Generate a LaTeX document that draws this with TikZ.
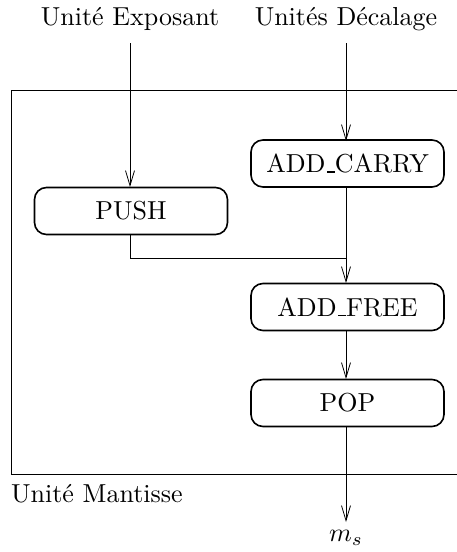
\documentclass[tikz,border=0pt]{standalone}
\usetikzlibrary{arrows.meta}
% labels are set at 10pt and enlarged, keeping the 10pt design
\newcommand{\lbltxt}[1]{\scalebox{2.6}{#1}}
% short baseline rule, as in plain TeX's underscore
\newcommand{\uscore}{\leavevmode\kern.06em\vbox{\hrule width.3em height .5pt}}
\begin{document}
\begin{tikzpicture}[x=1pt,y=-1pt,
  every node/.style={font=\fontsize{10}{12}\selectfont, inner sep=0pt},
  op/.style={draw, line width=1.6pt, rounded corners=12pt, minimum width=193pt, minimum height=47pt},
  link/.style={line width=0.8pt},
  flow/.style={link, -{Straight Barb[length=15pt,width=9pt,line width=0.8pt]}}]
  \useasboundingbox (0,0) rectangle (457,552);
  % enclosing unit frame (runs past the right edge)
  \draw[link] (470,90) -- (11,90) -- (11,474) -- (470,474);
  \node[anchor=west] (mant) at (11,494) {\lbltxt{Unité Mantisse}};
  % inputs
  \node (exp) at (130,19) {\lbltxt{Unité Exposant}};
  \node (dec) at (346,19) {\lbltxt{Unités Décalage}};
  \coordinate (expS) at (130,43);
  \coordinate (decS) at (346,43);
  % operations
  \node[op] (push) at (131,211) {\lbltxt{PUSH}};
  \node[op] (carry) at (347.5,163.5) {\lbltxt{ADD\uscore CARRY}};
  \node[op] (free) at (347.5,307) {\lbltxt{ADD\uscore FREE}};
  \node[op] (pop) at (347.5,403) {\lbltxt{POP}};
  % output
  \node (ms) at (346,538) {\lbltxt{$m_s$}};
  \coordinate (msT) at (346,522);
  % connectors
  \draw[flow] (expS) -- (130,187);
  \draw[flow] (decS) -- (346,141);
  \draw[flow] (346,186) -- (346,283);
  \draw[link] (130,235) -- (130,258) -- (346,258);
  \draw[flow] (346,331) -- (346,379);
  \draw[flow] (346,427) -- (msT);
\end{tikzpicture}
\end{document}
